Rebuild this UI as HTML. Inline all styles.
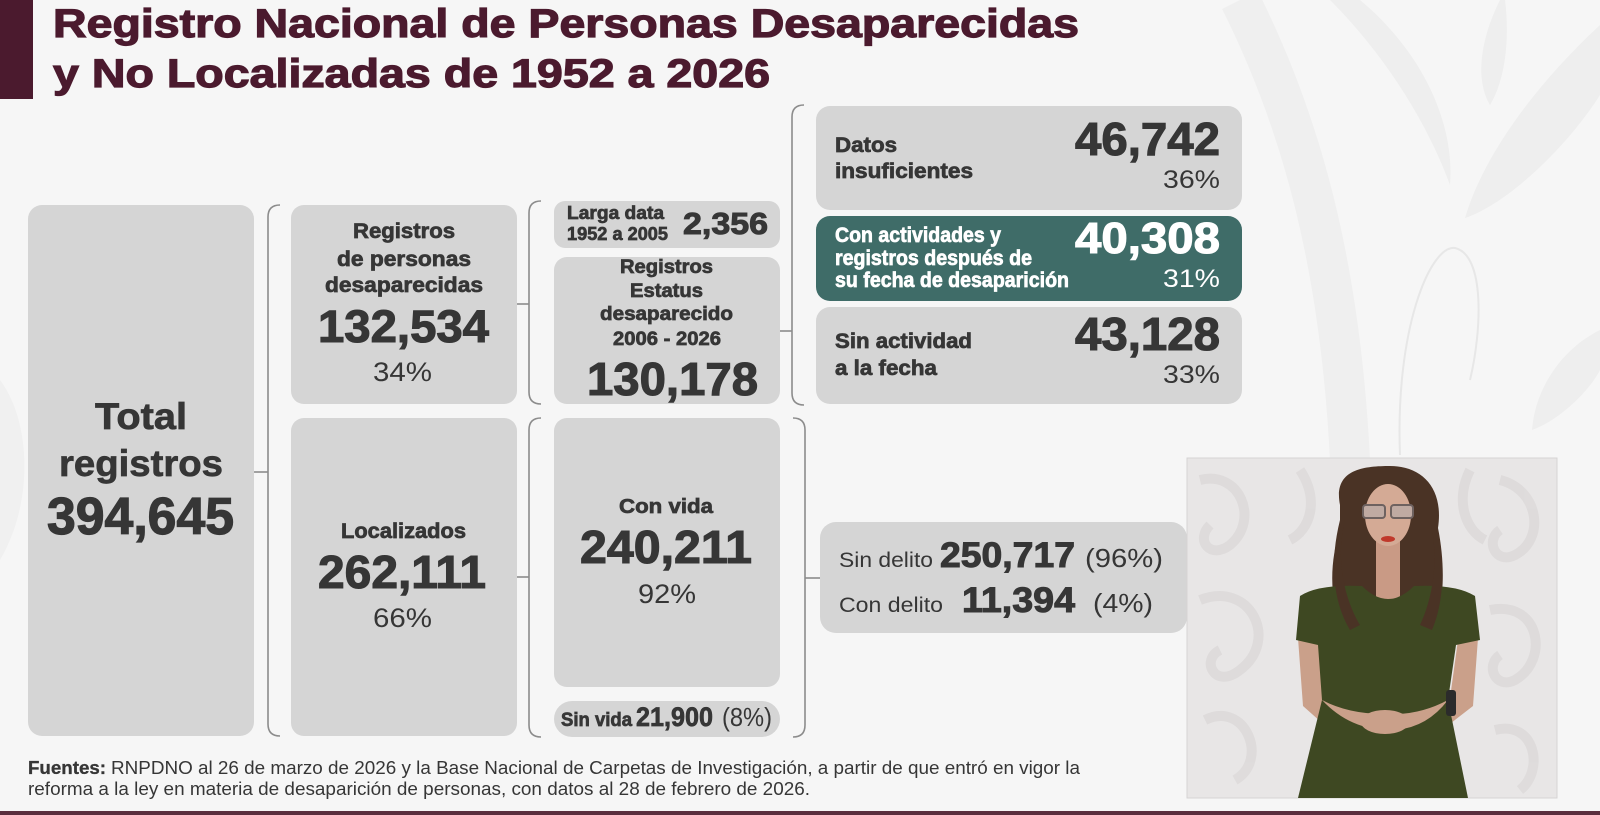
<!DOCTYPE html>
<html><head><meta charset="utf-8">
<style>
html,body{margin:0;padding:0;background:#f6f6f6;width:1600px;height:815px;overflow:hidden;}
svg{display:block;}
text{font-family:"Liberation Sans",Arial,sans-serif;}
.b{font-weight:700;stroke-width:0.7px;paint-order:stroke;}
.r{font-weight:400;stroke-width:0;}
</style></head><body>
<svg width="1600" height="815" viewBox="0 0 1600 815" xmlns="http://www.w3.org/2000/svg">
<rect width="1600" height="815" fill="#f6f6f6"/>

<!-- decorative background -->
<g fill="#eeeeee">
  <path d="M1360,0 C1420,50 1455,120 1450,185 C1430,130 1390,60 1330,0 Z"/>
  <path d="M1600,25 C1530,90 1482,160 1465,218 C1505,205 1565,150 1600,95 Z"/>
  <path d="M1600,330 C1560,350 1535,390 1532,430 C1560,420 1590,390 1600,370 Z"/>
  <path d="M1500,0 C1480,40 1475,80 1490,105 C1505,80 1510,40 1505,0 Z"/>
</g>
<path d="M1240,0 C1300,120 1340,260 1350,460" stroke="#efefef" stroke-width="40" fill="none"/>
<path d="M1400,455 C1395,330 1430,245 1455,248 C1485,255 1482,330 1470,380" stroke="#e7e7e7" stroke-width="2" fill="none"/>
<path d="M0,380 C30,420 35,500 0,560 Z" fill="#f0f0f0"/>

<!-- title -->
<rect x="0" y="0" width="33" height="99" fill="#4b1a2e"/>
<text x="53" y="37" font-size="40" class="b" fill="#4b1a2e" stroke="#4b1a2e" style="stroke-width:1.2px" textLength="1026" lengthAdjust="spacingAndGlyphs">Registro Nacional de Personas Desaparecidas</text>
<text x="53" y="87" font-size="40" class="b" fill="#4b1a2e" stroke="#4b1a2e" style="stroke-width:1.2px" textLength="717" lengthAdjust="spacingAndGlyphs">y No Localizadas de 1952 a 2026</text>

<!-- boxes -->
<g fill="#d5d5d5">
  <rect x="28" y="205" width="226" height="531" rx="14"/>
  <rect x="291" y="205" width="226" height="199" rx="13"/>
  <rect x="291" y="418" width="226" height="318" rx="13"/>
  <rect x="554" y="201" width="226" height="47" rx="11"/>
  <rect x="554" y="257" width="226" height="147" rx="13"/>
  <rect x="554" y="418" width="226" height="269" rx="13"/>
  <rect x="554" y="701" width="226" height="36" rx="18"/>
  <rect x="816" y="106" width="426" height="104" rx="14"/>
  <rect x="816" y="307" width="426" height="97" rx="14"/>
  <rect x="820" y="522" width="367" height="111" rx="16"/>
</g>
<rect x="816" y="216" width="426" height="85" rx="14" fill="#3f6c68"/>

<!-- brackets & connectors -->
<g stroke="#8c8c8c" stroke-width="1.6" fill="none">
  <line x1="254" y1="472" x2="268" y2="472"/>
  <path d="M280,205 Q268,205 268,217 L268,724 Q268,736 280,736"/>
  <line x1="517" y1="304" x2="529" y2="304"/>
  <path d="M541,201 Q529,201 529,213 L529,392 Q529,404 541,404"/>
  <line x1="517" y1="577" x2="529" y2="577"/>
  <path d="M541,418 Q529,418 529,430 L529,725 Q529,737 541,737"/>
  <line x1="780" y1="331" x2="792" y2="331"/>
  <path d="M804,105 Q792,105 792,117 L792,393 Q792,405 804,405"/>
  <path d="M793,418 Q805,418 805,430 L805,725 Q805,737 793,737"/>
  <line x1="805" y1="578" x2="820" y2="578"/>
</g>

<g fill="#363636" stroke="#363636">
  <!-- Total -->
  <text x="95" y="429" font-size="37" class="b" textLength="92" lengthAdjust="spacingAndGlyphs">Total</text>
  <text x="59" y="476" font-size="37" class="b" textLength="164" lengthAdjust="spacingAndGlyphs">registros</text>
  <text x="47" y="534" font-size="52" class="b" style="stroke-width:1.2px" textLength="187" lengthAdjust="spacingAndGlyphs">394,645</text>

  <!-- Registros de personas -->
  <text x="353" y="238" font-size="21" class="b" textLength="102" lengthAdjust="spacingAndGlyphs">Registros</text>
  <text x="337" y="266" font-size="21" class="b" textLength="134" lengthAdjust="spacingAndGlyphs">de personas</text>
  <text x="325" y="292" font-size="21" class="b" textLength="158" lengthAdjust="spacingAndGlyphs">desaparecidas</text>
  <text x="318" y="342" font-size="45" class="b" style="stroke-width:1.1px" textLength="171" lengthAdjust="spacingAndGlyphs">132,534</text>
  <text x="373" y="381" font-size="27" class="r" textLength="59" lengthAdjust="spacingAndGlyphs">34%</text>

  <!-- Localizados -->
  <text x="341" y="538" font-size="21" class="b" textLength="125" lengthAdjust="spacingAndGlyphs">Localizados</text>
  <text x="318" y="588" font-size="46" class="b" style="stroke-width:1.1px" textLength="168" lengthAdjust="spacingAndGlyphs">262,111</text>
  <text x="373" y="627" font-size="27" class="r" textLength="59" lengthAdjust="spacingAndGlyphs">66%</text>

  <!-- Larga data -->
  <text x="567" y="219" font-size="18" class="b" textLength="97" lengthAdjust="spacingAndGlyphs">Larga data</text>
  <text x="567" y="240" font-size="18" class="b" textLength="101" lengthAdjust="spacingAndGlyphs">1952 a 2005</text>
  <text x="683" y="234" font-size="31" class="b" style="stroke-width:1px" textLength="85" lengthAdjust="spacingAndGlyphs">2,356</text>

  <!-- Registros estatus -->
  <text x="620" y="273" font-size="19" class="b" textLength="93" lengthAdjust="spacingAndGlyphs">Registros</text>
  <text x="630" y="297" font-size="19" class="b" textLength="73" lengthAdjust="spacingAndGlyphs">Estatus</text>
  <text x="600" y="320" font-size="19" class="b" textLength="133" lengthAdjust="spacingAndGlyphs">desaparecido</text>
  <text x="613" y="345" font-size="19" class="b" textLength="108" lengthAdjust="spacingAndGlyphs">2006 - 2026</text>
  <text x="587" y="395" font-size="46" class="b" style="stroke-width:1.1px" textLength="171" lengthAdjust="spacingAndGlyphs">130,178</text>

  <!-- Con vida -->
  <text x="619" y="513" font-size="20" class="b" textLength="94" lengthAdjust="spacingAndGlyphs">Con vida</text>
  <text x="580" y="563" font-size="46" class="b" style="stroke-width:1.1px" textLength="172" lengthAdjust="spacingAndGlyphs">240,211</text>
  <text x="638" y="603" font-size="27" class="r" textLength="58" lengthAdjust="spacingAndGlyphs">92%</text>

  <!-- Sin vida -->
  <text x="561" y="726" font-size="19" class="b" textLength="71" lengthAdjust="spacingAndGlyphs">Sin vida</text>
  <text x="636" y="726" font-size="27" class="b" textLength="77" lengthAdjust="spacingAndGlyphs">21,900</text>
  <text x="722" y="726" font-size="26" class="r" textLength="50" lengthAdjust="spacingAndGlyphs">(8%)</text>

  <!-- Datos insuficientes -->
  <text x="835" y="152" font-size="21" class="b" textLength="62" lengthAdjust="spacingAndGlyphs">Datos</text>
  <text x="835" y="178" font-size="21" class="b" textLength="138" lengthAdjust="spacingAndGlyphs">insuficientes</text>
  <text x="1075" y="155" font-size="46" class="b" style="stroke-width:1.1px" textLength="145" lengthAdjust="spacingAndGlyphs">46,742</text>
  <text x="1163" y="188" font-size="25" class="r" textLength="57" lengthAdjust="spacingAndGlyphs">36%</text>

  <!-- Sin actividad -->
  <text x="835" y="348" font-size="21" class="b" textLength="137" lengthAdjust="spacingAndGlyphs">Sin actividad</text>
  <text x="835" y="375" font-size="21" class="b" textLength="102" lengthAdjust="spacingAndGlyphs">a la fecha</text>
  <text x="1075" y="350" font-size="46" class="b" style="stroke-width:1.1px" textLength="145" lengthAdjust="spacingAndGlyphs">43,128</text>
  <text x="1163" y="383" font-size="25" class="r" textLength="57" lengthAdjust="spacingAndGlyphs">33%</text>

  <!-- Sin / Con delito -->
  <text x="839" y="567" font-size="21" class="r" textLength="94" lengthAdjust="spacingAndGlyphs">Sin delito</text>
  <text x="940" y="567" font-size="35" class="b" style="stroke-width:1px" textLength="135" lengthAdjust="spacingAndGlyphs">250,717</text>
  <text x="1085" y="567" font-size="26" class="r" textLength="78" lengthAdjust="spacingAndGlyphs">(96%)</text>
  <text x="839" y="612" font-size="21" class="r" textLength="104" lengthAdjust="spacingAndGlyphs">Con delito</text>
  <text x="962" y="612" font-size="35" class="b" style="stroke-width:1px" textLength="113" lengthAdjust="spacingAndGlyphs">11,394</text>
  <text x="1093" y="612" font-size="26" class="r" textLength="60" lengthAdjust="spacingAndGlyphs">(4%)</text>

  <!-- footer -->
  <text x="28" y="774" font-size="18" class="b" style="stroke-width:0.3px" textLength="78" lengthAdjust="spacingAndGlyphs">Fuentes:</text>
  <text x="111" y="774" font-size="18" class="r" textLength="969" lengthAdjust="spacingAndGlyphs">RNPDNO al 26 de marzo de 2026 y la Base Nacional de Carpetas de Investigación, a partir de que entró en vigor la</text>
  <text x="28" y="795" font-size="18" class="r" textLength="782" lengthAdjust="spacingAndGlyphs">reforma a la ley en materia de desaparición de personas, con datos al 28 de febrero de 2026.</text>
</g>

<!-- teal text -->
<g fill="#ffffff" stroke="#ffffff">
  <text x="835" y="242" font-size="21" class="b" textLength="166" lengthAdjust="spacingAndGlyphs">Con actividades y</text>
  <text x="835" y="265" font-size="21" class="b" textLength="197" lengthAdjust="spacingAndGlyphs">registros después de</text>
  <text x="835" y="287" font-size="21" class="b" textLength="234" lengthAdjust="spacingAndGlyphs">su fecha de desaparición</text>
  <text x="1075" y="253" font-size="44" class="b" style="stroke-width:1.1px" textLength="145" lengthAdjust="spacingAndGlyphs">40,308</text>
  <text x="1163" y="287" font-size="25" class="r" textLength="57" lengthAdjust="spacingAndGlyphs">31%</text>
</g>

<!-- interpreter photo -->
<rect x="1187" y="458" width="370" height="340" fill="#e8e6e6" stroke="#d6d4d4" stroke-width="1"/>
<g fill="none" stroke="#dcd9d9" stroke-width="10" opacity="0.8">
  <path d="M1200,480 C1240,470 1260,520 1230,545 C1210,560 1195,540 1210,525"/>
  <path d="M1200,600 C1250,580 1280,640 1240,670 C1215,690 1200,660 1220,650"/>
  <path d="M1205,720 C1245,700 1270,760 1235,780"/>
  <path d="M1500,480 C1540,490 1545,540 1515,555 C1495,565 1485,540 1500,530"/>
  <path d="M1490,610 C1540,600 1550,660 1515,680 C1495,690 1485,665 1500,655"/>
  <path d="M1495,730 C1535,720 1545,770 1520,790"/>
  <path d="M1300,470 C1320,500 1310,530 1290,540"/>
  <path d="M1470,470 C1455,500 1465,530 1485,540"/>
</g>
<!-- hair back -->
<path d="M1340,505 C1333,470 1362,466 1390,466 C1422,466 1444,488 1438,528 C1446,568 1444,608 1432,634 L1344,634 C1328,600 1330,560 1340,530 Z" fill="#4a3325"/>
<!-- neck -->
<rect x="1376" y="535" width="24" height="70" fill="#c99a85"/>
<!-- face -->
<ellipse cx="1388" cy="515" rx="23" ry="31" fill="#d4aa95"/>
<rect x="1363" y="505" width="22" height="13" rx="3" fill="#bfaaa2" stroke="#6e6260" stroke-width="2"/>
<rect x="1391" y="505" width="22" height="13" rx="3" fill="#bfaaa2" stroke="#6e6260" stroke-width="2"/>
<ellipse cx="1388" cy="539" rx="7" ry="3" fill="#c0392b"/>
<!-- arms -->
<path d="M1298,638 L1319,640 L1324,698 L1380,712 L1386,732 L1330,730 L1303,706 Z" fill="#caa08a"/>
<path d="M1458,640 L1478,638 L1473,706 L1442,730 L1386,732 L1390,712 L1450,698 Z" fill="#caa08a"/>
<!-- dress -->
<path d="M1300,596 Q1318,584 1362,586 Q1388,612 1414,586 Q1456,584 1475,596 L1480,640 L1456,645 L1448,700 Q1420,715 1390,714 Q1350,715 1322,700 L1318,645 L1296,640 Z" fill="#3e4822"/>
<path d="M1322,700 Q1350,730 1390,730 Q1425,730 1448,700 L1468,798 L1298,798 Z" fill="#3e4822"/>
<!-- hands -->
<ellipse cx="1385" cy="722" rx="24" ry="12" fill="#caa08a"/>
<rect x="1446" y="690" width="10" height="26" rx="3" fill="#2b2b2b"/>
<!-- hair strands over shoulders -->
<path d="M1345,520 C1335,560 1345,600 1360,625 L1350,630 C1332,600 1330,560 1340,520 Z" fill="#4a3325"/>
<path d="M1430,520 C1440,560 1432,600 1420,625 L1432,630 C1445,600 1445,560 1436,520 Z" fill="#4a3325"/>

<!-- bottom line -->
<rect x="0" y="811" width="1600" height="4" fill="#5a2e3e"/>
</svg>
</body></html>
